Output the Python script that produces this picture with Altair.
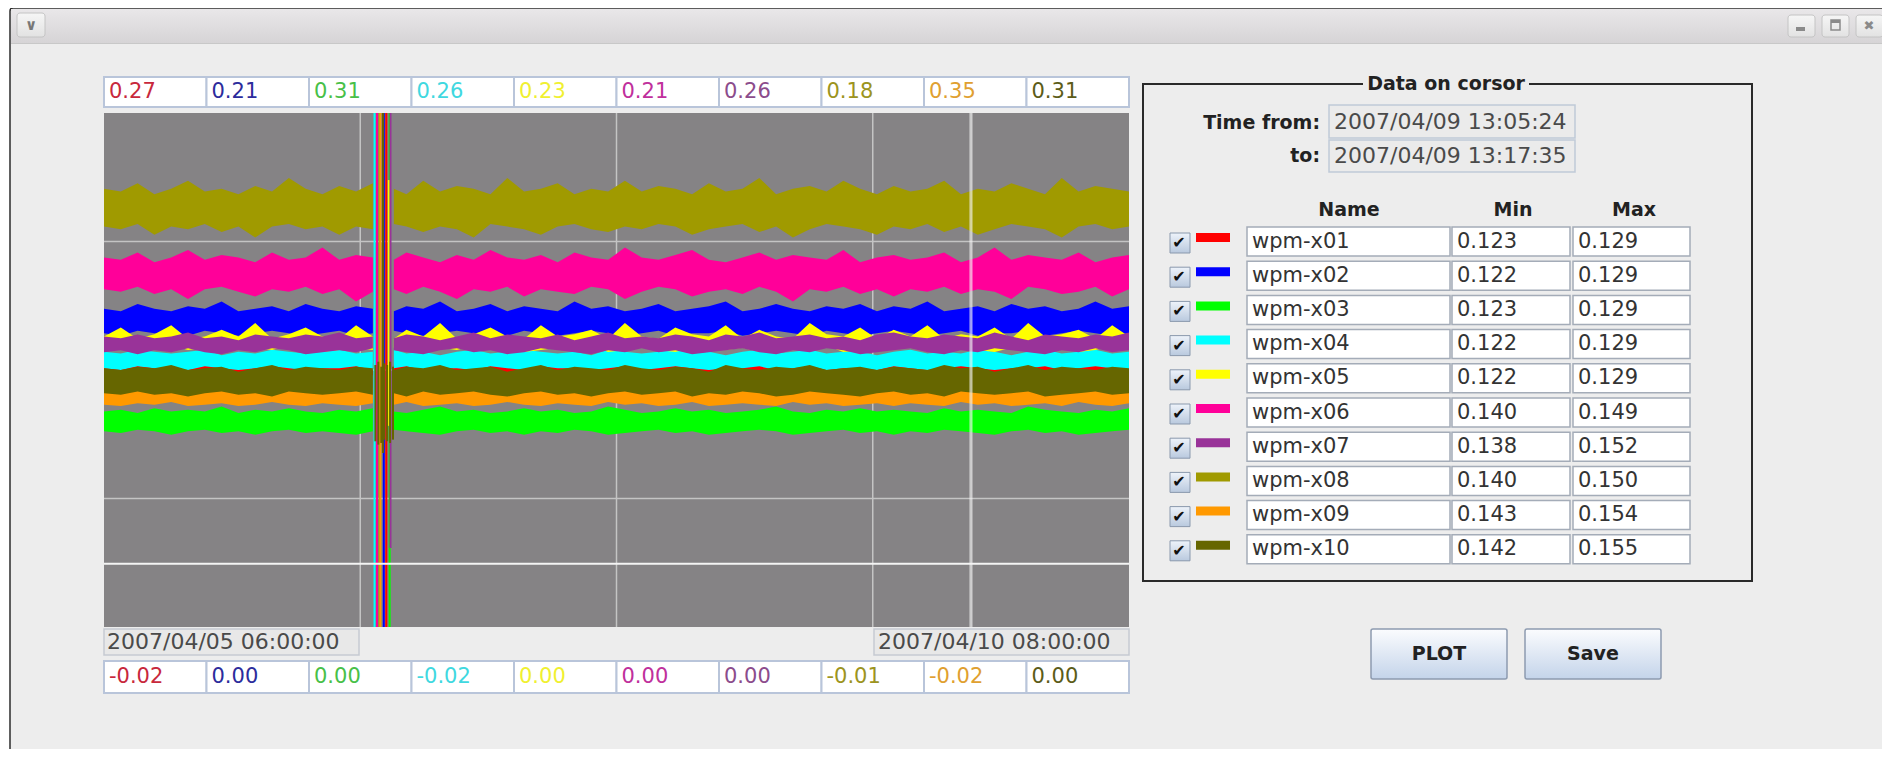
import altair as alt
import pandas as pd

# ---------------- data ----------------
series_names = ["wpm-x01", "wpm-x02", "wpm-x03", "wpm-x04", "wpm-x05",
                "wpm-x06", "wpm-x07", "wpm-x08", "wpm-x09", "wpm-x10"]
series_colors = ["#ff0000", "#0000ff", "#00ff00", "#00ffff", "#ffff00",
                 "#ff0099", "#993399", "#a09a00", "#ff9900", "#666600"]
label_colors = ["#c8283c", "#2c2c9c", "#48c048", "#40d8e0", "#f0f030",
                "#c0309c", "#8c4c8c", "#9c9420", "#e0a030", "#5c5c18"]
top_values = [0.27, 0.21, 0.31, 0.26, 0.23, 0.21, 0.26, 0.18, 0.35, 0.31]
bottom_values = [-0.02, 0.00, 0.00, -0.02, 0.00, 0.00, 0.00, -0.01, -0.02, 0.00]
cursor_min = [0.123, 0.122, 0.123, 0.122, 0.122, 0.140, 0.138, 0.140, 0.143, 0.142]
cursor_max = [0.129, 0.129, 0.129, 0.129, 0.129, 0.149, 0.152, 0.150, 0.154, 0.155]

time_start = "2007-04-05 06:00:00"
time_end = "2007-04-10 08:00:00"
cursor_from = "2007-04-09 13:05:24"
cursor_to = "2007-04-09 13:17:35"

# sample times (hours after time_start); first 17 before the glitch, rest after
sample_hours = [0, 2, 4, 6, 8, 10, 12, 14, 16, 18, 20, 22, 24, 26, 28, 30, 32,
                34.5, 36, 38, 40, 42, 44, 46, 48, 50, 52, 54, 56, 58, 60, 62,
                64, 66, 68, 70, 72, 74, 76, 78, 80, 82, 84, 86, 88, 90, 92,
                94, 96, 98, 100, 102, 104, 106, 108, 110, 112, 114, 116, 118, 120, 122]
glitch_split = 17

# upper / lower envelope of each noisy trace, in thousandths
band_hi = [
    [129,128,130,129,131,128,129,130,127,129,130,128,129,131,128,130,129,
     128,130,129,131,128,129,130,128,129,131,129,128,130,129,127,
     130,129,128,131,129,130,128,129,130,131,128,129,130,128,129,
     131,129,128,130,129,130,128,131,129,128,130,129,131,128,130],
    [130,129,132,130,129,131,130,133,129,130,131,129,132,130,129,131,130,
     129,131,130,133,129,130,132,129,131,130,129,133,130,131,129,
     130,132,129,130,131,133,129,130,132,130,129,131,130,132,129,
     131,130,133,129,130,131,129,132,130,131,129,130,133,130,131],
    [130,131,129,132,130,131,130,133,129,131,130,132,130,129,131,130,132,
     130,129,131,133,130,131,129,130,132,130,131,129,130,133,131,
     129,130,132,130,131,129,130,131,133,130,129,131,130,132,130,
     131,130,129,132,130,131,130,129,133,131,130,129,131,130,132],
    [130,129,131,130,129,130,131,128,130,129,131,130,129,130,131,129,130,
     131,129,130,128,130,131,129,130,131,130,129,130,128,131,130,
     129,130,131,129,130,128,130,131,129,130,131,129,130,130,128,
     130,131,129,130,129,131,130,128,130,131,129,130,131,129,130],
    [130,134,129,131,135,129,130,133,130,136,129,131,134,130,129,135,130,
     129,133,130,136,129,131,134,130,129,135,130,131,133,129,136,
     130,129,134,131,130,135,129,133,130,129,136,131,130,134,129,
     133,130,135,129,131,130,134,129,136,130,131,133,129,135,130],
    [151,150,153,149,151,154,150,152,151,149,153,150,151,155,150,152,151,
     150,153,151,149,152,150,154,151,150,152,149,153,151,150,155,
     151,150,152,154,150,149,151,153,150,152,151,150,154,149,151,
     152,150,151,153,149,151,155,150,152,151,150,153,149,151,152],
    [147,146,148,146,147,149,146,147,145,148,147,146,148,147,149,146,147,
     146,148,147,145,147,149,146,148,147,146,148,145,147,149,146,
     147,146,148,147,145,148,147,149,146,147,148,146,147,145,148,
     149,147,146,148,147,146,149,147,145,148,147,146,148,147,149],
    [152,151,154,150,152,155,151,152,150,153,151,156,152,150,153,151,154,
     152,150,155,151,153,152,150,156,151,152,154,150,152,151,155,
     151,153,152,150,154,151,152,156,150,152,153,151,155,152,150,
     153,151,152,155,150,152,151,154,152,150,156,151,153,152,151],
    [152,151,153,150,152,154,151,152,153,150,152,155,151,152,153,151,152,
     153,151,152,154,150,152,153,151,155,152,151,153,150,152,154,
     151,153,152,150,154,152,151,153,152,155,150,152,153,151,152,
     154,152,151,153,150,152,155,151,153,152,150,154,152,151,153],
    [156,155,157,156,158,155,156,157,154,156,158,155,157,156,155,157,156,
     155,157,156,158,155,156,157,154,156,158,155,157,156,155,158,
     156,155,157,156,154,158,156,155,157,156,158,155,156,157,155,
     157,156,155,158,156,157,154,156,158,155,157,156,155,157,156],
]
band_lo = [
    [122,121,123,122,121,122,123,121,122,122,121,123,122,121,122,120,122,
     121,122,123,121,122,121,122,123,122,121,122,120,122,123,121,
     122,121,122,123,121,122,122,121,123,122,121,122,120,122,121,
     122,123,121,122,121,122,123,121,122,120,122,121,123,122,121],
    [120,119,121,120,120,119,121,120,119,120,121,120,119,120,121,119,120,
     121,120,119,120,121,120,120,119,121,120,119,120,121,120,119,
     120,121,119,120,120,121,119,120,121,120,119,121,120,119,120,
     121,120,119,120,121,119,120,120,121,119,120,121,120,119,120],
    [118,117,119,118,116,118,119,117,118,116,118,119,117,118,117,116,118,
     119,118,117,116,118,119,117,118,116,118,117,119,118,116,117,
     118,119,117,118,116,117,118,119,118,116,117,118,119,117,118,
     116,118,117,119,118,117,116,118,119,117,118,116,117,118,119],
    [121,120,122,121,121,120,122,121,120,121,122,121,120,121,121,122,120,
     121,122,120,121,121,120,122,121,120,122,121,121,120,121,122,
     120,121,122,121,120,121,121,122,120,121,122,120,121,121,120,
     122,121,120,121,122,121,120,121,121,122,120,121,122,121,120],
    [124,125,123,124,126,124,125,123,124,125,124,126,125,123,124,125,124,
     125,124,123,125,124,126,124,125,123,124,125,124,126,123,124,
     125,124,123,125,126,124,125,123,124,125,124,126,123,124,125,
     124,126,123,124,125,124,123,125,126,124,125,123,124,126,125],
    [138,137,139,136,138,134,138,139,137,135,138,137,139,136,138,133,137,
     138,136,139,137,134,138,137,139,135,138,137,136,139,138,134,
     137,139,138,135,137,138,136,139,137,133,138,137,139,136,138,
     135,138,137,139,136,138,137,134,139,138,136,137,139,135,138],
    [139,140,138,140,139,141,139,138,140,139,141,140,138,139,140,139,141,
     140,139,138,140,141,139,140,138,139,141,140,139,138,140,139,
     141,139,140,138,139,140,141,139,138,140,139,141,140,138,139,
     140,141,139,138,140,139,141,140,139,138,140,139,141,139,140],
    [138,137,139,135,138,137,139,136,138,134,138,139,137,138,135,138,137,
     139,138,136,138,137,134,139,138,137,135,138,139,137,136,138,
     137,139,138,135,137,138,139,136,138,134,137,139,138,137,135,
     138,137,139,136,138,135,137,139,138,137,134,138,139,137,138],
    [140,139,141,140,142,139,140,141,139,140,142,140,139,141,140,139,141,
     140,142,139,140,141,139,140,142,140,139,141,140,139,142,140,
     141,139,140,142,139,140,141,140,139,142,140,141,139,140,141,
     139,141,140,139,142,140,141,139,140,141,139,142,140,139,141],
    [141,140,142,140,141,139,141,142,140,141,139,142,141,140,141,142,140,
     141,139,142,140,141,142,140,139,141,142,140,141,139,141,142,
     140,141,142,139,141,140,142,141,139,140,142,141,140,139,141,
     142,140,141,139,142,141,140,141,142,139,140,141,142,140,141],
]

# the short disturbance: series index, hour, low value, high value
glitch_series = [0, 1, 2, 3, 4, 5, 6, 7, 8, 9, 9, 9, 9, 9, 9, 9, 9]
glitch_hours = [33.6, 33.3, 34.0, 32.2, 33.9, 32.5, 34.1, 32.8, 32.9, 33.2,
                32.3, 32.65, 33.0, 33.35, 33.7, 34.05, 34.4]
glitch_lo = [-0.02, 0.0, 0.0, -0.02, 0.09, 0.0, 0.04, -0.01, -0.02, 0.105,
             0.112, 0.110, 0.111, 0.113, 0.112, 0.111, 0.113]
glitch_hi = [0.27, 0.21, 0.31, 0.26, 0.20, 0.21, 0.26, 0.18, 0.35, 0.31,
             0.158, 0.160, 0.157, 0.159, 0.158, 0.160, 0.157]

grid_fractions_x = [0.25, 0.5, 0.75]
grid_levels = [0.25, 0.5, 0.75]
cursor_level = 0.123

# ---------------- layout (chart pixel coordinates) ----------------
W, H = 1874, 741
PX0, PX1 = 96, 1121
PY0, PY1 = 105, 619
UI = "DejaVu Sans"

t0 = pd.Timestamp(time_start)
total_hours = (pd.Timestamp(time_end) - t0) / pd.Timedelta(hours=1)
cur_hours = [(pd.Timestamp(c) - t0) / pd.Timedelta(hours=1) for c in (cursor_from, cursor_to)]

ONE = pd.DataFrame({"k": [0]})
layers = []


def rect(x1, y1, x2, y2, fill=None, stroke=None, sw=1.0, radius=0):
    kw = dict(strokeWidth=sw, cornerRadius=radius)
    if fill is None:
        kw["fillOpacity"] = 0
        kw["fill"] = "#ffffff"
    else:
        kw["fill"] = fill
    if stroke:
        kw["stroke"] = stroke
    else:
        kw["strokeWidth"] = 0
    return alt.Chart(ONE).mark_rect(**kw).encode(
        x=alt.value(x1), x2=alt.value(x2), y=alt.value(y1), y2=alt.value(y2))


def label(x, y, txt, size=19, color="#222222", bold=False, align="left", font=UI):
    return alt.Chart(ONE).mark_text(
        align=align, baseline="middle", fontSize=size, color=color, font=font,
        fontWeight="bold" if bold else "normal").encode(
        x=alt.value(x), y=alt.value(y), text=alt.value(txt))


def vgrad(c1, c2):
    return alt.Gradient(gradient="linear", x1=0, x2=0, y1=0, y2=1,
                        stops=[alt.GradientStop(color=c1, offset=0),
                               alt.GradientStop(color=c2, offset=1)])


# ---- window chrome ----
layers.append(rect(2, 0, 1877, 747, fill="#ededed", stroke="#2c2c2c", sw=1.5, radius=3))
layers.append(rect(3, 1, 1876, 35, fill=vgrad("#e9e7e9", "#d6d4d6")))
layers.append(rect(3, 35, 1876, 36, fill="#c8c8c8"))
layers.append(rect(9, 5, 37, 29, fill=vgrad("#f6f6f6", "#e2e2e2"), stroke="#c4c4c4", radius=3))
layers.append(label(23, 17, "∨", size=15, color="#777777", bold=True, align="center"))
for bx0 in (1780, 1814, 1848):
    layers.append(rect(bx0, 7, bx0 + 27, 29, fill=vgrad("#f6f6f6", "#e2e2e2"), stroke="#c4c4c4", radius=3))
layers.append(rect(1788, 19, 1797, 23, fill="#8a8a8a"))
layers.append(rect(1823, 12, 1832, 22, stroke="#8a8a8a", sw=1.5))
layers.append(rect(1823, 12, 1832, 15, fill="#8a8a8a"))
layers.append(label(1861, 18, "✖", size=13, color="#8a8a8a", align="center"))

# ---- series table ----
sdf = pd.DataFrame({
    "name": series_names,
    "row": list(range(len(series_names))),
    "color": series_colors,
    "tcolor": label_colors,
    "top": [f"{v:.2f}" for v in top_values],
    "bottom": [f"{v:.2f}" for v in bottom_values],
    "vmin": [f"{v:.3f}" for v in cursor_min],
    "vmax": [f"{v:.3f}" for v in cursor_max],
})
bxs = alt.Scale(type="band", domain=series_names, range=[PX0, PX1], paddingInner=0, paddingOuter=0)

# top and bottom value boxes
for (yb0, yb1, field) in ((69, 99, "top"), (653, 685, "bottom")):
    layers.append(alt.Chart(sdf).mark_rect(fill="white", stroke="#b9c5da", strokeWidth=2).encode(
        x=alt.X("name:N", scale=bxs, axis=None), y=alt.value(yb0), y2=alt.value(yb1)))
    layers.append(alt.Chart(sdf).mark_text(align="left", baseline="middle", dx=5, fontSize=21, font=UI).encode(
        x=alt.X("name:N", scale=bxs, axis=None, bandPosition=0), y=alt.value((yb0 + yb1) / 2),
        text=f"{field}:N", color=alt.Color("tcolor:N", scale=None)))

# ---- plot area ----
xs = alt.Scale(domain=[0, total_hours], range=[PX0, PX1], nice=False, zero=False)
ys_norm = alt.Scale(domain=[0, 1], range=[PY1, PY0], nice=False, zero=False)
layers.append(rect(PX0, PY0, PX1, PY1, fill="#858385"))

gx = pd.DataFrame({"h": [f * total_hours for f in grid_fractions_x]})
gy = pd.DataFrame({"lvl": grid_levels})
layers.append(alt.Chart(gy).mark_rule(color="#c4c4c4", strokeWidth=1.5).encode(
    y=alt.Y("lvl:Q", scale=ys_norm, axis=None), x=alt.value(PX0), x2=alt.value(PX1)))
layers.append(alt.Chart(gx).mark_rule(color="#c4c4c4", strokeWidth=1.5).encode(
    x=alt.X("h:Q", scale=xs, axis=None), y=alt.value(PY0), y2=alt.value(PY1)))

gdf = pd.DataFrame({"s": glitch_series, "h": glitch_hours, "lo": glitch_lo, "hi": glitch_hi})
for i, name in enumerate(series_names):
    n = min(len(sample_hours), len(band_hi[i]), len(band_lo[i]))
    df = pd.DataFrame({
        "h": sample_hours[:n],
        "hi": [v / 1000 for v in band_hi[i][:n]],
        "lo": [v / 1000 for v in band_lo[i][:n]],
        "seg": [0 if k < glitch_split else 1 for k in range(n)],
    })
    ysc = alt.Scale(domain=[bottom_values[i], top_values[i]], range=[PY1, PY0], nice=False, zero=False)
    area = alt.Chart(df).mark_area(color=series_colors[i], opacity=1, interpolate="linear").encode(
        x=alt.X("h:Q", scale=xs, axis=None),
        y=alt.Y("hi:Q", scale=ysc, axis=None),
        y2="lo:Q",
        detail="seg:N")
    g = gdf[gdf["s"] == i]
    rules = alt.Chart(g).mark_rule(color=series_colors[i], strokeWidth=2).encode(
        x=alt.X("h:Q", scale=xs, axis=None),
        y=alt.Y("lo:Q", scale=ysc, axis=None),
        y2="hi:Q")
    layers.append(alt.layer(area, rules))

# cursor lines
layers.append(alt.Chart(pd.DataFrame({"h": cur_hours})).mark_rule(color="#f4f4f4", strokeWidth=1).encode(
    x=alt.X("h:Q", scale=xs, axis=None), y=alt.value(PY0), y2=alt.value(PY1)))
layers.append(alt.Chart(pd.DataFrame({"lvl": [cursor_level]})).mark_rule(color="#f4f4f4", strokeWidth=2).encode(
    y=alt.Y("lvl:Q", scale=ys_norm, axis=None), x=alt.value(PX0), x2=alt.value(PX1)))

# date boxes under the plot
start_txt = t0.strftime("%Y/%m/%d %H:%M:%S")
end_txt = pd.Timestamp(time_end).strftime("%Y/%m/%d %H:%M:%S")
layers.append(rect(96, 621, 351, 647, fill="#e8e8e8", stroke="#c6cad2", sw=1.5))
layers.append(label(99, 634, start_txt, size=22, color="#4a4a4a"))
layers.append(rect(866, 621, 1121, 647, fill="#e8e8e8", stroke="#c6cad2", sw=1.5))
layers.append(label(870, 634, end_txt, size=22, color="#4a4a4a"))

# ---- right panel ----
layers.append(rect(1135, 76, 1744, 573, stroke="#2a2a2a", sw=2))
layers.append(rect(1355, 66, 1521, 86, fill="#ededed"))
layers.append(label(1438, 76, "Data on corsor", size=19, bold=True, align="center"))
layers.append(label(1312, 115, "Time from:", size=19, bold=True, align="right"))
layers.append(label(1312, 148, "to:", size=19, bold=True, align="right"))
layers.append(rect(1321, 97, 1567, 130, fill="#ebebeb", stroke="#c0cad8", sw=1.5))
layers.append(rect(1321, 132, 1567, 164, fill="#ebebeb", stroke="#c0cad8", sw=1.5))
layers.append(label(1326, 114, pd.Timestamp(cursor_from).strftime("%Y/%m/%d %H:%M:%S"), size=22, color="#4a4a4a"))
layers.append(label(1326, 148, pd.Timestamp(cursor_to).strftime("%Y/%m/%d %H:%M:%S"), size=22, color="#4a4a4a"))
layers.append(label(1341, 202, "Name", size=19, bold=True, align="center"))
layers.append(label(1505, 202, "Min", size=19, bold=True, align="center"))
layers.append(label(1626, 202, "Max", size=19, bold=True, align="center"))

rs = alt.Scale(domain=[0, 9], range=[233.5, 541.3], nice=False, zero=False)
ry = alt.Y("row:Q", scale=rs, axis=None)
ry2 = alt.Y2("row:Q")
# checkbox
layers.append(alt.Chart(sdf).mark_rect(fill=vgrad("#eef3fa", "#b9c9de"), stroke="#8a99ad", strokeWidth=1,
                                       yOffset=-8.5, y2Offset=11.5).encode(
    y=ry, y2=ry2, x=alt.value(1162), x2=alt.value(1182)))
layers.append(alt.Chart(sdf).mark_text(align="center", baseline="middle", fontSize=16, color="#111111", font=UI,
                                       dy=1.5).encode(y=ry, x=alt.value(1171), text=alt.value("✔")))
# colour swatch
layers.append(alt.Chart(sdf).mark_rect(yOffset=-8.5, y2Offset=0.5).encode(
    y=ry, y2=ry2, x=alt.value(1188), x2=alt.value(1222), color=alt.Color("color:N", scale=None)))
# text fields
for (cx0, cx1, field) in ((1239, 1442, "name"), (1444, 1562, "vmin"), (1565, 1682, "vmax")):
    layers.append(alt.Chart(sdf).mark_rect(fill="white", stroke="#a4acb8", strokeWidth=1.5,
                                           yOffset=-14.5, y2Offset=14.5).encode(
        y=ry, y2=ry2, x=alt.value(cx0), x2=alt.value(cx1)))
    layers.append(alt.Chart(sdf).mark_text(align="left", baseline="middle", fontSize=21, color="#333333",
                                           font=UI).encode(
        y=ry, x=alt.value(cx0 + 5), text=f"{field}:N"))

# buttons
for (b0, b1, txt) in ((1363, 1499, "PLOT"), (1517, 1653, "Save")):
    layers.append(rect(b0, 621, b1, 671, fill=vgrad("#fbfcfe", "#c4d4ea"), stroke="#8d9bb0", sw=1.5, radius=2))
    layers.append(label((b0 + b1) / 2, 646, txt, size=19, bold=True, align="center"))

chart = alt.layer(*layers).resolve_scale(x="independent", y="independent").properties(
    width=W, height=H, autosize=alt.AutoSizeParams(type="none"), padding=0, background="white"
).configure_view(stroke=None)

chart.save("out.html", embed_options={"renderer": "svg", "actions": False})
